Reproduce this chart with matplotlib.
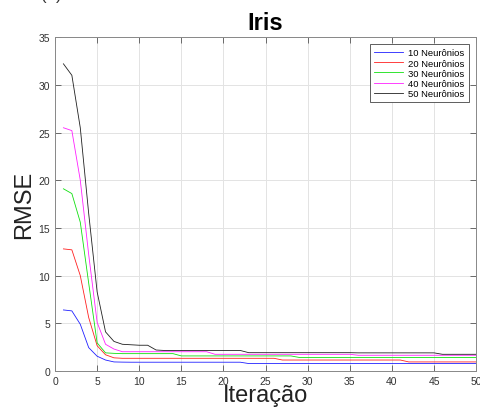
import matplotlib
matplotlib.use("Agg")
import matplotlib.pyplot as plt
import numpy as np

plt.rcParams['font.family'] = ['Liberation Sans', 'DejaVu Sans']

iterations = list(range(1, 51))

rmse_10 = [6.4, 6.3, 4.9, 2.45, 1.55, 1.15, 0.95, 0.93, 0.92, 0.92,
           0.92, 0.92, 0.92, 0.92, 0.92, 0.92, 0.92, 0.92, 0.92, 0.92,
           0.92, 0.92, 0.78, 0.78, 0.78, 0.78, 0.78, 0.78, 0.78, 0.78,
           0.78, 0.78, 0.78, 0.78, 0.78, 0.78, 0.78, 0.78, 0.78, 0.78,
           0.78, 0.78, 0.78, 0.78, 0.78, 0.78, 0.78, 0.78, 0.78, 0.78]
rmse_20 = [12.8, 12.7, 10.0, 5.6, 2.65, 1.7, 1.38, 1.33, 1.33, 1.33,
           1.33, 1.33, 1.33, 1.33, 1.33, 1.33, 1.33, 1.33, 1.33, 1.33,
           1.33, 1.33, 1.33, 1.33, 1.33, 1.33, 1.15, 1.15, 1.15, 1.15,
           1.15, 1.15, 1.15, 1.15, 1.15, 1.15, 1.15, 1.15, 1.15, 1.15,
           1.15, 0.95, 0.95, 0.95, 0.95, 0.95, 0.95, 0.95, 0.95, 0.95]
rmse_30 = [19.1, 18.6, 15.6, 9.2, 2.95, 1.9, 1.85, 1.82, 1.82, 1.82,
           1.82, 1.82, 1.82, 1.82, 1.58, 1.58, 1.58, 1.58, 1.58, 1.58,
           1.58, 1.58, 1.58, 1.58, 1.58, 1.58, 1.58, 1.58, 1.42, 1.42,
           1.42, 1.42, 1.42, 1.42, 1.42, 1.42, 1.42, 1.42, 1.42, 1.42,
           1.42, 1.42, 1.42, 1.42, 1.42, 1.42, 1.42, 1.42, 1.42, 1.42]
rmse_40 = [25.5, 25.2, 20.0, 12.2, 5.1, 2.8, 2.3, 2.02, 2.02, 2.02,
           2.02, 2.02, 2.02, 2.02, 2.02, 2.02, 2.02, 2.02, 1.75, 1.75,
           1.75, 1.75, 1.75, 1.75, 1.75, 1.75, 1.75, 1.75, 1.75, 1.75,
           1.75, 1.75, 1.75, 1.75, 1.75, 1.65, 1.65, 1.65, 1.65, 1.65,
           1.65, 1.65, 1.65, 1.65, 1.65, 1.65, 1.65, 1.65, 1.65, 1.65]
rmse_50 = [32.2, 31.0, 25.5, 16.5, 8.3, 4.1, 3.1, 2.8, 2.75, 2.7,
           2.7, 2.2, 2.15, 2.15, 2.15, 2.15, 2.15, 2.15, 2.15, 2.15,
           2.15, 2.15, 1.92, 1.92, 1.92, 1.92, 1.92, 1.92, 1.92, 1.92,
           1.92, 1.92, 1.92, 1.92, 1.92, 1.9, 1.9, 1.9, 1.9, 1.9,
           1.9, 1.9, 1.9, 1.9, 1.9, 1.75, 1.75, 1.75, 1.75, 1.75]

series = [rmse_10, rmse_20, rmse_30, rmse_40, rmse_50]
labels = ["10 Neurônios", "20 Neurônios", "30 Neurônios", "40 Neurônios", "50 Neurônios"]
colors = ["#2020ff", "#ff2020", "#10e010", "#ff20ff", "#202020"]

fig = plt.figure(figsize=(4.8, 4.1), dpi=100)
ax = fig.add_axes([0.1146, 0.0927, 0.8774, 0.8143])

for vals, lab, col in zip(series, labels, colors):
    ax.plot(iterations, vals, color=col, lw=0.6, label=lab)

ax.set_xlim(0, 50)
ax.set_ylim(0, 35)
ax.set_xticks(np.arange(0, 51, 5))
ax.set_yticks(np.arange(0, 36, 5))
ax.grid(True, color="#e3e3e3", lw=0.7)
ax.set_axisbelow(True)
ax.tick_params(direction="in", length=4, width=0.6, colors="#555555",
               labelsize=7.5, labelcolor="#333333", top=True, right=True)
for s in ax.spines.values():
    s.set_color("#888888")
    s.set_linewidth(0.7)

ax.set_title("Iris", fontsize=17, fontweight="bold", pad=6)
ax.set_xlabel("Iteração", fontsize=17, labelpad=-1, color="#222222")
ax.set_ylabel("RMSE", fontsize=17, labelpad=2.5, color="#222222")

leg = ax.legend(loc="upper right", fontsize=6.8, frameon=True, fancybox=False,
                edgecolor="#444444", framealpha=1, borderpad=0.45,
                handlelength=3.0, labelspacing=0.12, handletextpad=0.6,
                borderaxespad=0.75)
leg.get_frame().set_linewidth(0.6)

fig.text(0.085, 1.0, "(a)", fontsize=12, va="baseline", ha="left", color="#333333")

fig.savefig("out.png", dpi=100)
